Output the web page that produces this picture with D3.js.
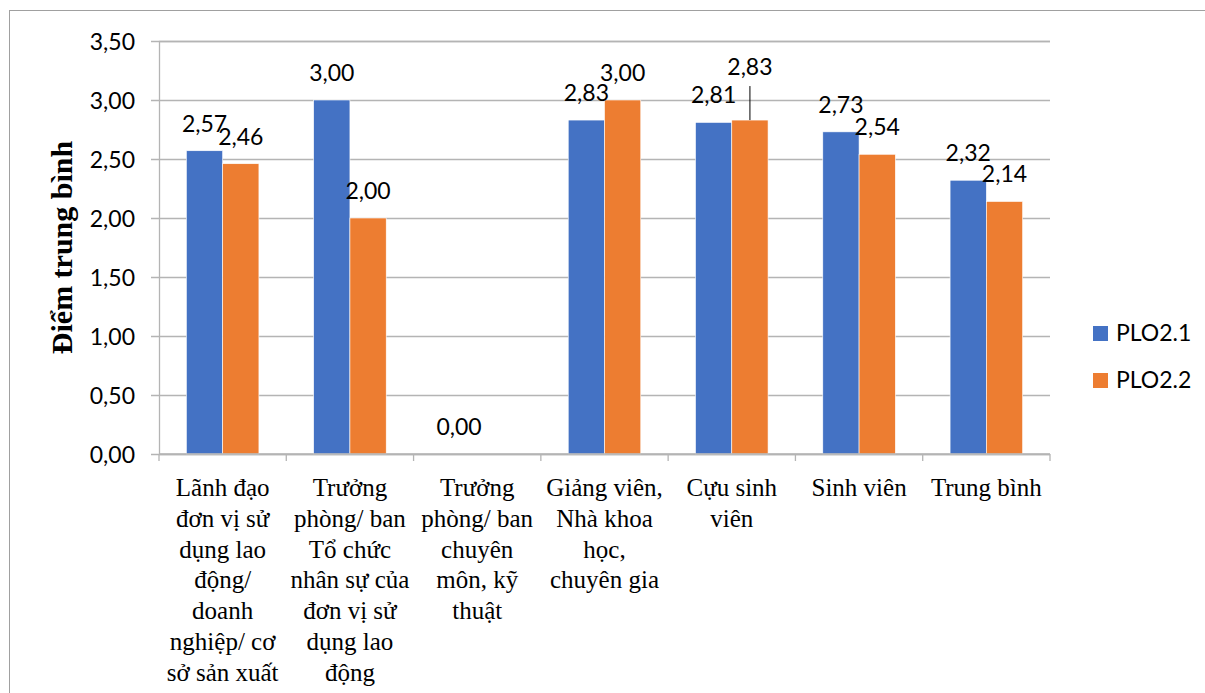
<!DOCTYPE html>
<html>
<head>
<meta charset="utf-8">
<script src="https://cdn.jsdelivr.net/npm/d3@7"></script>
<style>
  html, body { margin: 0; padding: 0; background: #fff; }
  svg { display: block; }
</style>
</head>
<body>
<svg id="chart" width="1205" height="693"></svg>
<script>
// Nhóm đối tượng khảo sát (mỗi dòng nhãn tách bằng \n)
const categories = [
  "Lãnh đạo\nđơn vị sử\ndụng lao\nđộng/\ndoanh\nnghiệp/ cơ\nsở sản xuất",
  "Trưởng\nphòng/ ban\nTổ chức\nnhân sự của\nđơn vị sử\ndụng lao\nđộng",
  "Trưởng\nphòng/ ban\nchuyên\nmôn, kỹ\nthuật",
  "Giảng viên,\nNhà khoa\nhọc,\nchuyên gia",
  "Cựu sinh\nviên",
  "Sinh viên",
  "Trung bình"
];
const seriesNames = ["PLO2.1", "PLO2.2"];
const plo21 = [2.57, 3.00, 0.00, 2.83, 2.81, 2.73, 2.32];
const plo22 = [2.46, 2.00, null, 3.00, 2.83, 2.54, 2.14];
const yTicks = [0, 0.5, 1, 1.5, 2, 2.5, 3, 3.5];
const yTitle = "Điểm trung bình";

const colors = ["#4472C4", "#ED7D31"];
const gridColor = "#b4b4b4";
const sansFont = "Lato, 'Open Sans', sans-serif";
const serifFont = "'Liberation Serif', 'Times New Roman', serif";

const svg = d3.select("#chart");
const W = 1205, H = 693;
const plot = { left: 159, right: 1050, top: 41, bottom: 454 };

// Khung viền ngoài của biểu đồ
svg.append("rect")
  .attr("x", 9.5).attr("y", 10.5)
  .attr("width", W + 20).attr("height", H + 20)
  .attr("fill", "none").attr("stroke", "#a0a0a0").attr("stroke-width", 1);

const x0 = d3.scaleBand()
  .domain(d3.range(categories.length))
  .range([plot.left, plot.right])
  .paddingInner(0.43).paddingOuter(0.215);
const band = (plot.right - plot.left) / categories.length;
const x1 = d3.scaleBand().domain([0, 1]).range([0, x0.bandwidth()]);

const y = d3.scaleLinear().domain([0, 3.5]).range([plot.bottom, plot.top]);
const fmt = v => d3.format(".2f")(v).replace(".", ",");

// Lưới ngang + trục tung
const yAxis = d3.axisLeft(y)
  .tickValues(yTicks)
  .tickSize(-(plot.right - plot.left))
  .tickPadding(16)
  .tickFormat(fmt);
const yg = svg.append("g")
  .attr("transform", `translate(${plot.left},0)`)
  .call(yAxis);
yg.select(".domain").attr("stroke", gridColor).attr("stroke-width", 1.3);
yg.selectAll(".tick line")
  .attr("stroke", gridColor).attr("stroke-width", 1.3)
  .attr("x1", -8);
yg.selectAll(".tick text")
  .attr("font-family", sansFont).attr("font-size", 23)
  .attr("fill", "#000").attr("x", -24).attr("dy", "0.35em");

// Vạch chia trục hoành tại ranh giới các nhóm
const xBounds = d3.range(categories.length + 1).map(i => plot.left + i * band);
svg.append("g").selectAll("line").data(xBounds).join("line")
  .attr("x1", d => d).attr("x2", d => d)
  .attr("y1", plot.bottom).attr("y2", plot.bottom + 7)
  .attr("stroke", gridColor).attr("stroke-width", 1.3);

// Các cột
const rows = categories.map((c, i) => ({ i, vals: [plo21[i], plo22[i]] }));
const groups = svg.append("g").selectAll("g").data(rows).join("g")
  .attr("transform", d => `translate(${x0(d.i)},0)`);
groups.selectAll("rect")
  .data(d => d.vals.map((v, s) => ({ v, s })).filter(e => e.v !== null))
  .join("rect")
  .attr("x", e => x1(e.s))
  .attr("width", x1.bandwidth())
  .attr("y", e => y(e.v))
  .attr("height", e => plot.bottom - y(e.v))
  .attr("fill", e => colors[e.s])
  .attr("stroke", "#fff").attr("stroke-width", 0.6);

// Trục hoành (đường đáy)
svg.append("line")
  .attr("x1", plot.left).attr("x2", plot.right)
  .attr("y1", plot.bottom).attr("y2", plot.bottom)
  .attr("stroke", gridColor).attr("stroke-width", 1.3);

// Nhãn giá trị; nhãn bị chồng được đẩy lên kèm đường dẫn
const labelLift = { "4-1": 26 };
groups.each(function (d) {
  const g = d3.select(this);
  d.vals.forEach((v, s) => {
    if (v === null) return;
    const cx = x1(s) + x1.bandwidth() / 2;
    const top = y(v);
    const lift = labelLift[`${d.i}-${s}`] || 0;
    const base = top - 19 - lift;
    if (lift) {
      g.append("line")
        .attr("x1", cx).attr("x2", cx)
        .attr("y1", base + 11).attr("y2", top)
        .attr("stroke", "#000").attr("stroke-width", 1);
    }
    g.append("text")
      .attr("x", cx).attr("y", base)
      .attr("text-anchor", "middle")
      .attr("font-family", sansFont).attr("font-size", 23)
      .attr("fill", "#000")
      .text(fmt(v));
  });
});

// Nhãn nhóm trên trục hoành
svg.append("g").selectAll("text").data(categories).join("text")
  .attr("text-anchor", "middle")
  .attr("font-family", serifFont).attr("font-size", 25)
  .attr("fill", "#000")
  .each(function (c, i) {
    const t = d3.select(this);
    const cx = x0(i) + x0.bandwidth() / 2;
    c.split("\n").forEach((line, k) => {
      t.append("tspan").attr("x", cx).attr("y", 496 + k * 30.8).text(line);
    });
  });

// Tiêu đề trục tung
svg.append("text")
  .attr("transform", `translate(72,${(plot.top + plot.bottom) / 2}) rotate(-90)`)
  .attr("text-anchor", "middle")
  .attr("font-family", serifFont).attr("font-weight", "bold").attr("font-size", 30)
  .attr("fill", "#000")
  .text(yTitle);

// Chú giải
const legend = svg.append("g").selectAll("g").data(seriesNames).join("g")
  .attr("transform", (d, i) => `translate(1093,${333 + i * 47})`);
legend.append("rect")
  .attr("x", 0).attr("y", -7).attr("width", 15).attr("height", 15)
  .attr("fill", (d, i) => colors[i]);
legend.append("text")
  .attr("x", 23).attr("y", 0).attr("dy", "0.35em")
  .attr("font-family", sansFont).attr("font-size", 23)
  .attr("fill", "#000")
  .text(d => d);
</script>
</body>
</html>
